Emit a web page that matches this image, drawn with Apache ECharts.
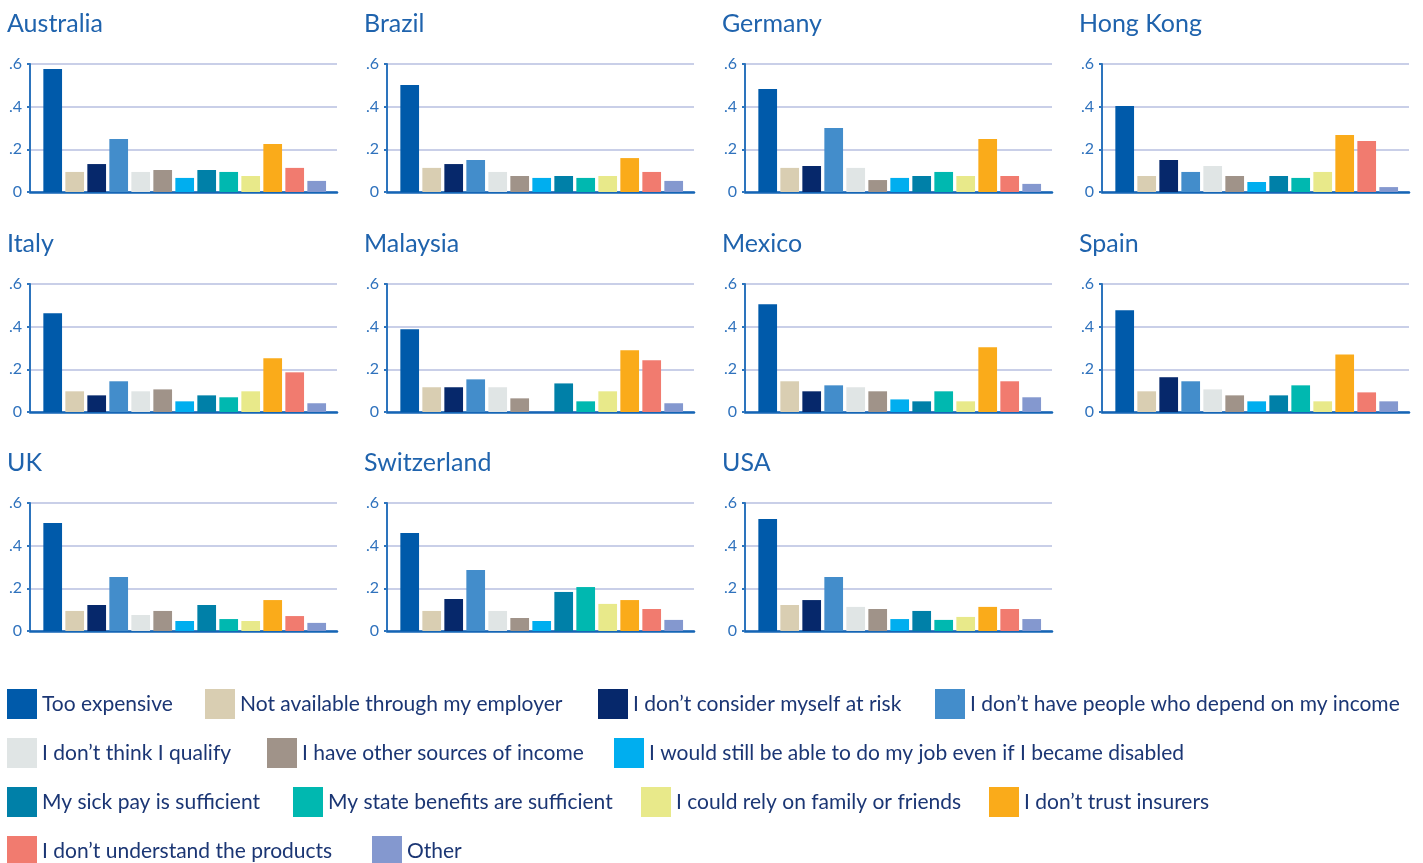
<!DOCTYPE html>
<html>
<head>
<meta charset="utf-8">
<script src="https://cdn.jsdelivr.net/npm/echarts@6/dist/echarts.min.js"></script>
<style>
  html, body { margin: 0; padding: 0; background: #fff; }
  #main { width: 1423px; height: 863px; }
</style>
</head>
<body>
<div id="main"></div>
<script>
var reasons = [
  'Too expensive', 'Not available through my employer', 'I don\u2019t consider myself at risk',
  'I don\u2019t have people who depend on my income', 'I don\u2019t think I qualify',
  'I have other sources of income', 'I would still be able to do my job even if I became disabled',
  'My sick pay is sufficient', 'My state benefits are sufficient', 'I could rely on family or friends',
  'I don\u2019t trust insurers', 'I don\u2019t understand the products', 'Other'
];
var colors = [
  '#005aaa', '#d9ceb2', '#06286b', '#438dcb', '#e0e5e5', '#a09389', '#00aeef',
  '#0080a8', '#00b8b0', '#e8e98a', '#faab1a', '#f17b6f', '#8498cf'
];
var countries = ['Australia', 'Brazil', 'Germany', 'Hong Kong', 'Italy', 'Malaysia',
  'Mexico', 'Spain', 'UK', 'Switzerland', 'USA'];

var australia   = [0.577, 0.094, 0.131, 0.248, 0.094, 0.103, 0.066, 0.103, 0.094, 0.075, 0.225, 0.113, 0.052];
var brazil      = [0.502, 0.113, 0.131, 0.150, 0.094, 0.075, 0.066, 0.075, 0.066, 0.075, 0.159, 0.094, 0.052];
var germany     = [0.483, 0.113, 0.122, 0.300, 0.113, 0.056, 0.066, 0.075, 0.094, 0.075, 0.248, 0.075, 0.038];
var hongKong    = [0.403, 0.075, 0.150, 0.094, 0.122, 0.075, 0.047, 0.075, 0.066, 0.094, 0.267, 0.239, 0.023];
var italy       = [0.463, 0.097, 0.078, 0.144, 0.097, 0.106, 0.050, 0.078, 0.069, 0.097, 0.252, 0.186, 0.041];
var malaysia    = [0.388, 0.116, 0.116, 0.153, 0.116, 0.064, 0,     0.134, 0.050, 0.097, 0.289, 0.242, 0.041];
var mexico      = [0.505, 0.144, 0.097, 0.125, 0.116, 0.097, 0.059, 0.050, 0.097, 0.050, 0.303, 0.144, 0.069];
var spain       = [0.477, 0.097, 0.163, 0.144, 0.106, 0.078, 0.050, 0.078, 0.125, 0.050, 0.270, 0.092, 0.050];
var uk          = [0.506, 0.094, 0.122, 0.253, 0.075, 0.094, 0.047, 0.122, 0.056, 0.047, 0.145, 0.070, 0.038];
var switzerland = [0.459, 0.094, 0.150, 0.286, 0.094, 0.061, 0.047, 0.183, 0.206, 0.127, 0.145, 0.103, 0.052];
var usa         = [0.525, 0.122, 0.145, 0.253, 0.113, 0.103, 0.056, 0.094, 0.052, 0.066, 0.113, 0.103, 0.056];
var values = [australia, brazil, germany, hongKong, italy, malaysia, mexico, spain, uk, switzerland, usa];

var yTicks = [0, 0.2, 0.4, 0.6];

// layout
var colX = [30, 387, 745, 1102];
var rowY = [64, 284, 503];
var plotW = 307, plotH = 128, barInset = 11.7, barSpan = 286;
var legendPos = [
  [7, 704], [205, 704], [598, 704], [935, 704],
  [7, 753], [267, 753], [614, 753],
  [7, 802], [293, 802], [641, 802], [989, 802],
  [7, 851], [372, 851]
];
var font = 'Lato';

var myChart = echarts.init(document.getElementById('main'));

var titles = [], grids = [], xAxes = [], yAxes = [], series = [], legends = [];

countries.forEach(function (name, k) {
  var x = colX[k % 4], y = rowY[Math.floor(k / 4)];
  titles.push({
    text: name, left: x - 23, top: y - 53, padding: 0,
    textStyle: { fontFamily: font, fontSize: 25, fontWeight: 'normal', color: '#1f63ad' }
  });
  // frame grid: axis lines, split lines, tick labels
  grids.push({ left: x, top: y, width: plotW, height: plotH });
  // bar grid
  grids.push({ left: x + barInset, top: y, width: barSpan, height: plotH });

  xAxes.push({
    type: 'category', gridIndex: 2 * k, data: reasons,
    axisLine: { lineStyle: { color: '#1565b5', width: 2.5 } },
    axisTick: { show: false }, axisLabel: { show: false }
  });
  xAxes.push({
    type: 'category', gridIndex: 2 * k + 1, data: reasons, show: false
  });
  yAxes.push({
    type: 'value', gridIndex: 2 * k, min: 0, max: 0.6, interval: 0.2,
    axisLine: { show: true, lineStyle: { color: '#2d74bd', width: 2 } },
    axisTick: { show: true, length: 3, lineStyle: { color: '#2d74bd', width: 2 } },
    splitLine: { lineStyle: { color: '#c9cfe8', width: 2 } },
    axisLabel: {
      margin: 8, fontFamily: font, fontSize: 16, color: '#2f72bd',
      formatter: function (v) {
        var t = yTicks.indexOf(Math.round(v * 10) / 10);
        return yTicks[t] === 0 ? '0' : String(yTicks[t]).replace(/^0/, '');
      }
    }
  });
  yAxes.push({
    type: 'value', gridIndex: 2 * k + 1, min: 0, max: 0.6, show: false
  });

  reasons.forEach(function (r, j) {
    series.push({
      type: 'bar', name: r,
      xAxisIndex: 2 * k + 1, yAxisIndex: 2 * k + 1,
      barWidth: '85%', barGap: '-100%',
      itemStyle: { color: colors[j] },
      silent: true,
      data: values[k].map(function (v, i) { return i === j ? v : '-'; })
    });
  });
});

reasons.forEach(function (r, j) {
  legends.push({
    left: legendPos[j][0], top: legendPos[j][1] - 15, padding: 0,
    orient: 'horizontal', selectedMode: false,
    itemWidth: 30, itemHeight: 30, itemGap: 0,
    icon: 'rect',
    data: [r],
    textStyle: { fontFamily: font, fontSize: 21, color: '#1b3674' }
  });
});

var option = {
  animation: false,
  backgroundColor: '#ffffff',
  title: titles,
  legend: legends,
  grid: grids,
  xAxis: xAxes,
  yAxis: yAxes,
  color: colors,
  series: series
};
myChart.setOption(option);
</script>
</body>
</html>
